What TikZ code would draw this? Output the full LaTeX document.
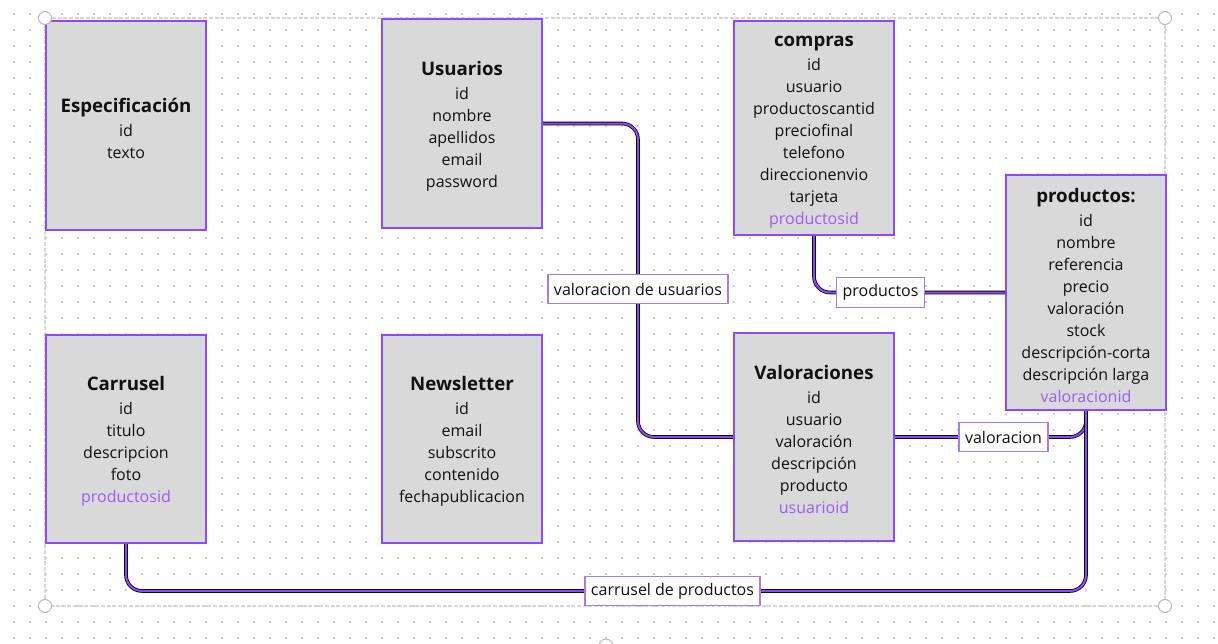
\documentclass[tikz,border=0pt]{standalone}
\usepackage{fontspec}
\setmainfont{Open Sans}
\definecolor{boxfill}{HTML}{D9D9D9}
\definecolor{boxline}{HTML}{9146FF}
\definecolor{fieldpurple}{HTML}{9D5CF5}
\definecolor{labline}{HTML}{A57AF7}
\definecolor{dotc}{HTML}{CDD0D6}
\definecolor{txt}{HTML}{111111}
\definecolor{selc}{HTML}{D4D6DA}
\tikzset{
 tablebox/.style={draw=boxline, fill=boxfill, line width=1.5pt, minimum width=120pt, align=center, inner sep=0pt, text=txt, font=\fontsize{12}{16.5}\selectfont},
 rel/.style={draw=black, line width=0.6pt, double=boxline, double distance=1.5pt, rounded corners=12pt},
 rellabel/.style={draw=labline, fill=white, line width=0.9pt, inner xsep=4.5pt, inner ysep=0pt, minimum height=22pt, text=txt, font=\fontsize{12}{14}\selectfont},
 handle/.style={draw=gray!55, fill=white, line width=0.8pt},
}
\newcommand{\ttl}[1]{{\fontsize{14}{16.5}\selectfont\bfseries\rule{0pt}{14.5pt}#1}\\[1.5pt]}
\newcommand{\fk}[1]{\textcolor{fieldpurple}{#1}}
\begin{document}
\begin{tikzpicture}[x=0.75pt,y=-0.75pt]
\useasboundingbox[fill=white] (0,0) rectangle (1218,643);
% dot grid
\foreach \i in {0,...,75} {
  \foreach \j in {0,...,39} {
    \fill[dotc] ({13+16*\i},{13+16*\j}) rectangle ++(2,2);
  }
}
% selection frame
\draw[selc, line width=1.4pt, dash pattern=on 3pt off 1.2pt] (45,18) rectangle (1165,606);
% anchor coordinates for labels
\coordinate (c1) at (638,289);
\coordinate (c2) at (880.5,292.5);
\coordinate (c3) at (1003.5,437);
\coordinate (c4) at (672.5,591);
% tables
\node[tablebox, minimum height=156.75pt] (esp) at (126,125.5) {\ttl{Especificación}id\\texto};
\node[tablebox, minimum height=156.75pt] (usr) at (462,123.5) {\ttl{Usuarios}id\\nombre\\apellidos\\email\\password};
\node[tablebox, minimum height=160.5pt] (cmp) at (814,128) {\ttl{compras}id\\usuario\\productoscantid\\preciofinal\\telefono\\direccionenvio\\tarjeta\\\fk{productosid}};
\node[tablebox, minimum height=176.25pt] (prd) at (1086,292.5) {\ttl{productos:}id\\nombre\\referencia\\precio\\valoración\\stock\\descripción-corta\\descripción larga\\\fk{valoracionid}};
\node[tablebox, minimum height=156pt] (car) at (126,439) {\ttl{Carrusel}id\\titulo\\descripcion\\foto\\\fk{productosid}};
\node[tablebox, minimum height=156pt] (nws) at (462,439) {\ttl{Newsletter}id\\email\\subscrito\\contenido\\fechapublicacion};
\node[tablebox, minimum height=156pt] (val) at (814,437) {\ttl{Valoraciones}id\\usuario\\valoración\\descripción\\producto\\\fk{usuarioid}};
% connectors
\draw[rel] (usr.east) -| (c1) |- (val.west);
\draw[rel] (cmp.south) |- (c2) -- (prd.west);
\draw[rel] (val.east) -- (c3) -| (prd.south);
\draw[rel] (car.south) |- (c4) -| (prd.south);
% labels
\node[rellabel] (l1) at (c1) {valoracion de usuarios};
\node[rellabel] (l2) at (c2) {productos};
\node[rellabel] (l3) at (c3) {valoracion};
\node[rellabel] (l4) at (c4) {carrusel de productos};
% handles
\draw[handle] (45,18) circle[radius=6.5];
\draw[handle] (1165,18) circle[radius=6.5];
\draw[handle] (45,606) circle[radius=6.5];
\draw[handle] (1165,606) circle[radius=6.5];
\draw[handle] (606,646) circle[radius=7];
\end{tikzpicture}
\end{document}
